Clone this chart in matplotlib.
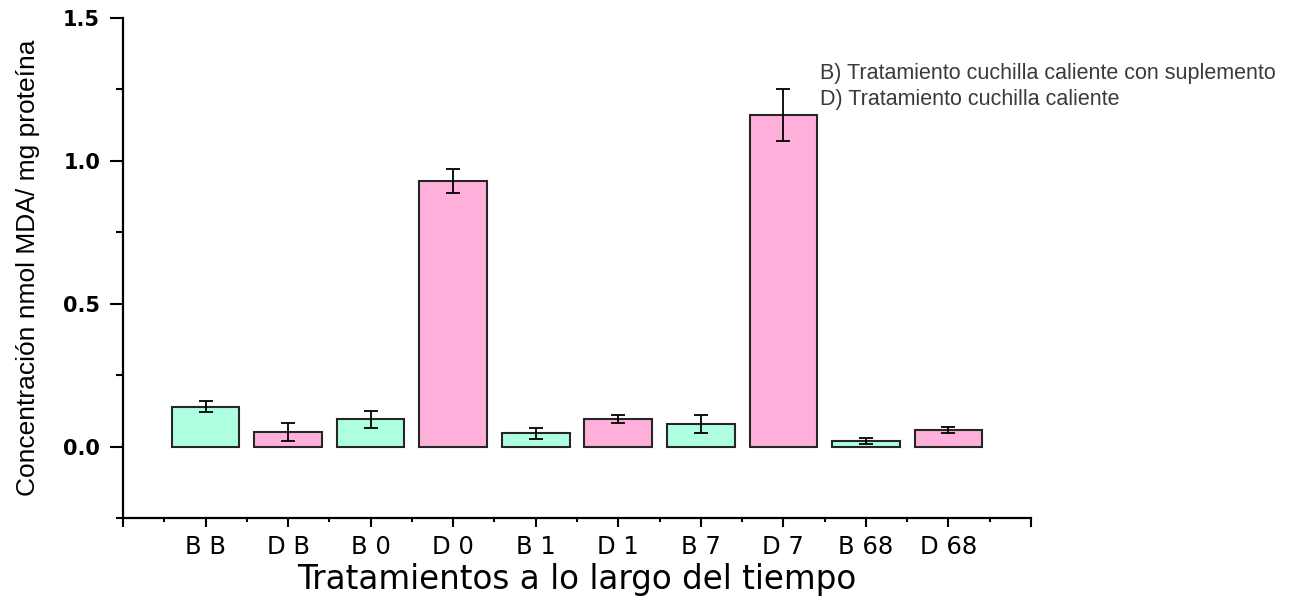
import matplotlib
matplotlib.use("Agg")
import matplotlib.pyplot as plt
from matplotlib.ticker import MultipleLocator, FixedLocator, FormatStrFormatter

# Treatment groups over time (B = hot blade + supplement, D = hot blade)
categories = ["B B", "D B", "B 0", "D 0", "B 1", "D 1", "B 7", "D 7", "B 68", "D 68"]
mda_mean = [0.14, 0.05, 0.096, 0.929, 0.047, 0.096, 0.08, 1.162, 0.02, 0.058]
mda_err = [0.018, 0.031, 0.030, 0.043, 0.019, 0.013, 0.031, 0.091, 0.011, 0.011]
groups = ["B", "D", "B", "D", "B", "D", "B", "D", "B", "D"]

group_colors = {"B": "#AEFFE0", "D": "#FFB0DA"}
legend_lines = [
    "B) Tratamiento cuchilla caliente con suplemento",
    "D) Tratamiento cuchilla caliente",
]

fig = plt.figure(figsize=(12.95, 6.0), dpi=100)
ax = fig.add_axes([123 / 1295, 1 - 518 / 600, 908 / 1295, 500 / 600])

positions = list(range(1, len(categories) + 1))
ax.bar(positions, mda_mean, width=0.82,
       color=[group_colors[g] for g in groups],
       edgecolor="#262626", linewidth=1.5, zorder=2)
ax.errorbar(positions, mda_mean, yerr=mda_err, fmt="none",
            ecolor="black", elinewidth=1.3, capsize=5, capthick=1.3, zorder=3)

ax.set_xlim(0, 11)
ax.set_ylim(-0.25, 1.5)

ax.xaxis.set_major_locator(FixedLocator(range(0, 12)))
ax.set_xticklabels([""] + categories + [""])
ax.xaxis.set_minor_locator(MultipleLocator(0.5))
ax.yaxis.set_major_locator(FixedLocator([0.0, 0.5, 1.0, 1.5]))
ax.yaxis.set_minor_locator(FixedLocator([-0.25, 0.25, 0.75, 1.25]))
ax.yaxis.set_major_formatter(FormatStrFormatter("%.1f"))

for side in ("top", "right"):
    ax.spines[side].set_visible(False)
for side in ("left", "bottom"):
    ax.spines[side].set_linewidth(1.6)
    ax.spines[side].set_color("black")

ax.tick_params(axis="y", which="major", direction="out", length=9.5, width=1.5,
               pad=7, labelsize=15)
ax.tick_params(axis="y", which="minor", direction="out", length=5, width=1.5)
ax.tick_params(axis="x", which="major", direction="out", length=6.5, width=1.5,
               pad=6, labelsize=17.5)
ax.tick_params(axis="x", which="minor", direction="out", length=3, width=1.5)
for lbl in ax.get_yticklabels():
    lbl.set_fontfamily("DejaVu Sans")
    lbl.set_fontweight("bold")
for lbl in ax.get_xticklabels():
    lbl.set_fontfamily("DejaVu Sans")

ax.set_xlabel("Tratamientos a lo largo del tiempo", fontsize=23.5,
              fontfamily="DejaVu Sans", va="center")
ax.xaxis.set_label_coords(0.5, -0.124)
ax.set_ylabel("Concentración nmol MDA/ mg proteína", fontsize=19,
              fontfamily="Liberation Sans", va="center")
ax.yaxis.set_label_coords(-0.1046, 0.5)

fig.text(820 / 1295, 1 - 73 / 600, legend_lines[0], fontsize=15.5,
         fontfamily="Liberation Sans", color="#3a3a3a", va="center", ha="left")
fig.text(820 / 1295, 1 - 100 / 600, legend_lines[1], fontsize=15.5,
         fontfamily="Liberation Sans", color="#3a3a3a", va="center", ha="left")

fig.savefig("out.png", dpi=100, facecolor="white")
